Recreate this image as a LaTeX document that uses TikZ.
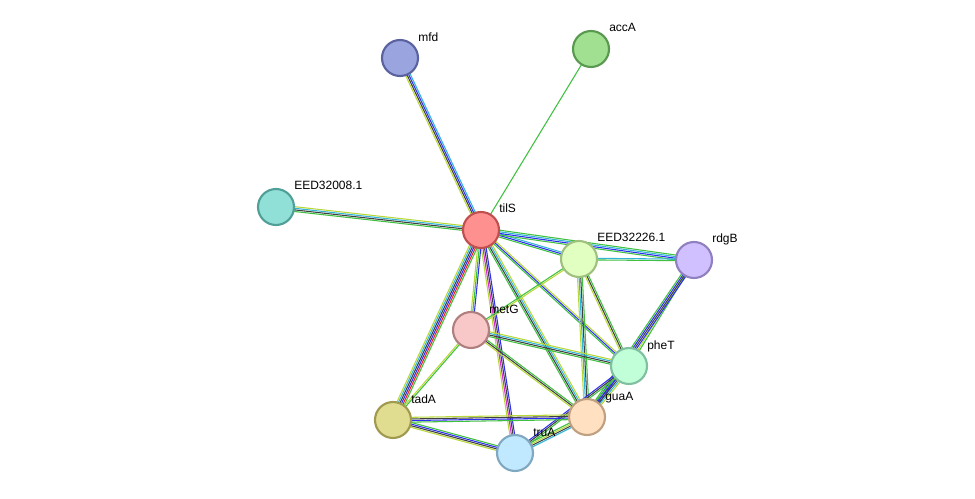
\documentclass[tikz,border=0pt]{standalone}
\usepackage{fontspec}
\setmainfont{Liberation Sans}
\usetikzlibrary{calc,backgrounds}
\definecolor{sgreen}{HTML}{3FC03F}
\definecolor{sblue}{HTML}{2E2EF0}
\definecolor{sblack}{HTML}{404040}
\definecolor{scyan}{HTML}{33B5D8}
\definecolor{syel}{HTML}{B8D83A}
\definecolor{smag}{HTML}{D030D0}
\definecolor{sred}{HTML}{F02020}
\tikzset{
  prot/.style={circle, minimum size=27pt, inner sep=0pt, line width=1.6pt},
  lbl/.style={anchor=base west, inner sep=0pt, font=\fontsize{9}{11}\selectfont},
  eg/.style={draw=sgreen}, eb/.style={draw=sblue}, ek/.style={draw=sblack},
  ec/.style={draw=scyan}, ey/.style={draw=syel}, em/.style={draw=smag},
  er/.style={draw=sred},
}
\newcommand\edge[3]{%
  \foreach [count=\i] \c in {#3} {\xdef\nlines{\i}}
  \foreach [count=\i] \c in {#3} {
    \pgfmathsetmacro\off{(\i-(\nlines+1)/2)*1.2}
    \draw[\c, line width=0.8pt] ($(#1.center)!\off pt!90:(#2.center)$) -- ($(#2.center)!\off pt!-90:(#1.center)$);
  }}
\newcommand\prot[5]{% name, x, y, fill, border
  \definecolor{f#1}{HTML}{#4}\definecolor{d#1}{HTML}{#5}%
  \node[prot, fill=f#1, draw=d#1] (#1) at (#2,#3) {};}
\begin{document}
\begin{tikzpicture}[x=0.75pt, y=-0.75pt]
\useasboundingbox (0,0) rectangle (975,499);

% proteins
\prot{mfd}{400}{58}{9AA5E0}{5A63A0}
\prot{accA}{591}{49}{A0E090}{5A9A50}
\prot{eedA}{276}{207}{90E0D8}{50A098}
\prot{tilS}{481}{230}{FF9090}{C05050}
\prot{eedB}{579}{259}{E0FFC0}{A0C080}
\prot{rdgB}{694}{260}{D0C0FF}{9080C0}
\prot{metG}{471}{330}{F8C8C8}{B08080}
\prot{pheT}{629}{366}{C0FFD8}{80C0A0}
\prot{tadA}{393}{420}{E0DC90}{A09A50}
\prot{guaA}{587}{417}{FFE0C0}{C0A080}
\prot{truA}{515}{453}{C0E8FF}{80A8C0}

% labels
\node[lbl] (lmfd) at (418,42) {mfd};
\node[lbl] (laccA) at (609,32) {accA};
\node[lbl] (leedA) at (294,190) {EED32008.1};
\node[lbl] (ltilS) at (499,213) {tilS};
\node[lbl] (leedB) at (597,242) {EED32226.1};
\node[lbl] (lrdgB) at (712,243) {rdgB};
\node[lbl] (lmetG) at (489,313) {metG};
\node[lbl] (lpheT) at (647,349) {pheT};
\node[lbl] (ltadA) at (411,403) {tadA};
\node[lbl] (lguaA) at (605,400) {guaA};
\node[lbl] (ltruA) at (533,436) {truA};

% interactions
\begin{pgfonlayer}{background}
\edge{tilS}{mfd}{ec,eb,ek,ey}
\edge{tilS}{accA}{eg}
\edge{tilS}{eedA}{ey,ec,ek,eg}
\edge{tilS}{eedB}{eg,eb,ec}
\edge{tilS}{rdgB}{eg,eb,ec,eg}
\edge{tilS}{metG}{ey,eg,eb}
\edge{tilS}{tadA}{ey,ec,ek,eb,er,eg}
\edge{tilS}{truA}{ey,em,ek,eb}
\edge{tilS}{guaA}{eg,ek,ec,ey}
\edge{tilS}{pheT}{eg,eb,ey}
\edge{eedB}{rdgB}{eg,ec}
\edge{eedB}{metG}{eg,ey}
\edge{eedB}{pheT}{ey,ek,eg}
\edge{eedB}{guaA}{ey,ec,ek,eg}
\edge{rdgB}{pheT}{ey,eg}
\edge{rdgB}{guaA}{eg,eb,ek,eb}
\edge{metG}{pheT}{eg,ek,ec,ey}
\edge{metG}{guaA}{ey,ek,eg}
\edge{metG}{tadA}{ey,eg}
\edge{pheT}{guaA}{eg,eb,ek,ec,ey}
\edge{pheT}{truA}{eb,ek,eg}
\edge{tadA}{guaA}{eg,eb,ek,ey}
\edge{tadA}{truA}{ey,ek,eb,eg}
\edge{truA}{guaA}{ec,ek,ey,eg}
\end{pgfonlayer}
\end{tikzpicture}
\end{document}
